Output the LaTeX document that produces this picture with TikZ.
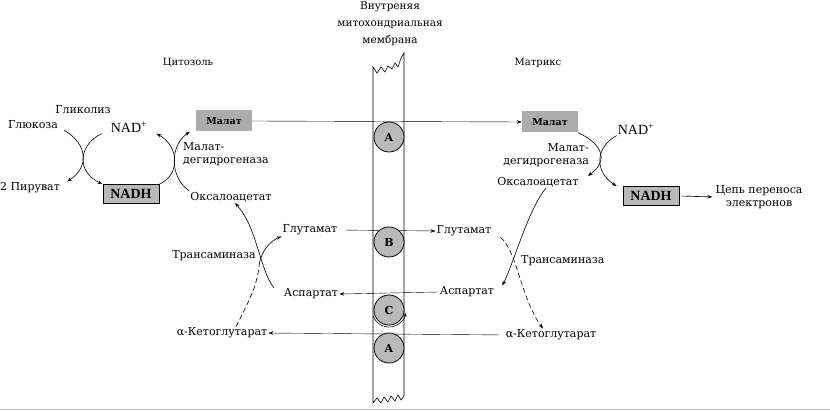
\documentclass[tikz,border=0pt]{standalone}
\usepackage{fontspec}
\setmainfont{DejaVu Serif}
\newfontfamily\timesfont{Liberation Serif}
\usetikzlibrary{arrows.meta,backgrounds}

\begin{document}
\begin{tikzpicture}[x=1pt, y=-1pt,
    lbl/.style={font=\fontsize{11}{12.5}\selectfont, inner sep=1pt},
    side/.style={font=\fontsize{10}{12}\selectfont, inner sep=1pt},
    nad/.style={font=\timesfont\fontsize{14}{16}\selectfont, inner sep=1pt},
    nadhbox/.style={draw=black, thick, fill=gray!55,
        font=\timesfont\bfseries\fontsize{14}{16}\selectfont,
        minimum width=56pt, minimum height=19pt, inner sep=1pt},
    malbox/.style={fill=gray!65, font=\bfseries\fontsize{9.5}{11}\selectfont,
        minimum width=56pt, minimum height=21pt, inner sep=1pt},
    carrier/.style={circle, draw=black, thick, fill=gray!55,
        minimum size=30pt, inner sep=0pt, font=\bfseries\fontsize{11}{13}\selectfont},
    flow/.style={thin, -{Stealth[length=5pt,width=3.5pt]}},
    react/.style={semithick, -{Stealth[length=5pt,width=3.5pt]}},
    longdash/.style={dash pattern=on 5pt off 3pt}
]
    \useasboundingbox (0,0) rectangle (830,411);

    % headings
    \node[side, align=center, font=\fontsize{10.5}{17}\selectfont] (memtitle) at (390,24)
        {Внутреняя\\митохондриальная\\мембрана};
    \node[side] (cyto) at (188,63) {Цитозоль};
    \node[side] (matrix) at (538,63) {Матрикс};

    % cytosol
    \node[lbl] (glycolysis) at (83,110) {Гликолиз};
    \node[lbl] (glucose) at (33,125) {Глюкоза};
    \node[nad] (nadL) at (129,127) {NAD\textsuperscript{+}};
    \node[lbl] (pyruvate) at (30,188) {2 Пируват};
    \node[nadhbox] (nadhL) at (131,194) {NADH};
    \node[malbox] (malL) at (224,121) {Малат};
    \node[lbl, anchor=west, align=left] (mdhL) at (182,154) {Малат-\\дегидрогеназа};
    \node[lbl] (oxaL) at (231,197) {Оксалоацетат};
    \node[lbl] (gluL) at (310,230) {Глутамат};
    \node[lbl] (taL) at (214,256) {Трансаминаза};
    \node[lbl] (aspL) at (311,294) {Аспартат};
    \node[lbl] (akgL) at (222,333) {α-Кетоглутарат};

    % carriers in the membrane
    \node[carrier] (carA) at (389,137) {A};
    \node[carrier] (carB) at (389,242) {B};
    \node[carrier] (carC) at (389,310) {C};
    \node[carrier] (carD) at (389,348) {A};

    % matrix
    \node[malbox] (malR) at (550,122) {Малат};
    \node[nad] (nadR) at (636,129) {NAD\textsuperscript{+}};
    \node[lbl, anchor=east, align=right] (mdhR) at (590,155) {Малат-\\дегидрогеназа};
    \node[lbl] (oxaR) at (538,182) {Оксалоацетат};
    \node[nadhbox] (nadhR) at (651,196) {NADH};
    \node[lbl, align=center] (etc) at (759,197) {Цепь переноса\\электронов};
    \node[lbl] (gluR) at (464,231) {Глутамат};
    \node[lbl, anchor=west] (taR) at (520,261) {Трансаминаза};
    \node[lbl] (aspR) at (467,292) {Аспартат};
    \node[lbl] (akgR) at (551,335) {α-Кетоглутарат};

    \coordinate (crossL) at (259,266);

    \begin{scope}[on background layer]
        % membrane
        \draw[semithick] (373,403) -- (373,67) -- (377,73) -- (381,67) -- (385,72)
            -- (388,66) -- (392,69) -- (395,63) -- (398,67) -- (401,58) -- (404,53)
            -- (404,396) -- (401,400) -- (398,395) -- (395,401) -- (391,396)
            -- (388,402) -- (384,397) -- (381,403) -- (377,398) -- cycle;
        \draw[gray!50] (0,409) -- (830,409);
        % transport across
        \draw[flow] (malL.east) -- (malR.west);
        \draw[flow, shorten <=8pt] (gluL.east) -- (gluR.west);
        \draw[flow] (aspR.west) -- (aspL.east);
        \draw[flow, shorten <=6pt] (akgR.west) -- (akgL.east);
    \end{scope}

    \draw[semithick, -{Stealth[length=4pt,width=3pt]}] ([shift={(160:17)}]carC.center)
        arc[start angle=160, end angle=10, radius=17];

    % cytosol reactions
    \draw[react] ([xshift=5pt]glucose.south east) .. controls +(24,14) and +(22,-14) .. ([xshift=6pt]pyruvate.north east);
    \draw[react] ([xshift=-8pt]nadL.south west) .. controls +(-24,12) and +(-26,-12) .. (nadhL.north west);
    \draw[react] (nadhL.north east) .. controls +(22,-10) and +(22,12) .. ([xshift=8pt]nadL.south east);
    \draw[react] (oxaL.north west) .. controls +(-20,-14) and +(-20,14) .. ([xshift=-6pt]malL.south west);
    \draw[react] ([xshift=-9pt]aspL.north west) .. controls +(-14,-18) and +(22,24) .. ([xshift=4pt]oxaL.south);
    \draw[semithick, longdash] ([xshift=14pt]akgL.north) .. controls +(10,-20) and +(-2,22) .. (crossL);
    \draw[react] (crossL) .. controls +(2,-16) and +(-10,4) .. (gluL.south west);

    % matrix reactions
    \draw[react] (malR.south east) .. controls +(26,12) and +(20,-14) .. ([xshift=8pt]oxaR.north east);
    \draw[react] (nadR.south west) .. controls +(-22,12) and +(-22,-14) .. ([xshift=-6pt]nadhR.north west);
    \draw[react, shorten <=2pt, shorten >=2pt] (nadhR.east) -- (etc.west);
    \draw[react] ([xshift=8pt]oxaR.south) .. controls +(-18,22) and +(12,-24) .. ([xshift=7pt]aspR.north east);
    \draw[react, longdash] ([xshift=8pt]gluR.south east) .. controls +(16,12) and +(-22,-30) .. ([xshift=-8pt]akgR.north);
\end{tikzpicture}
\end{document}
